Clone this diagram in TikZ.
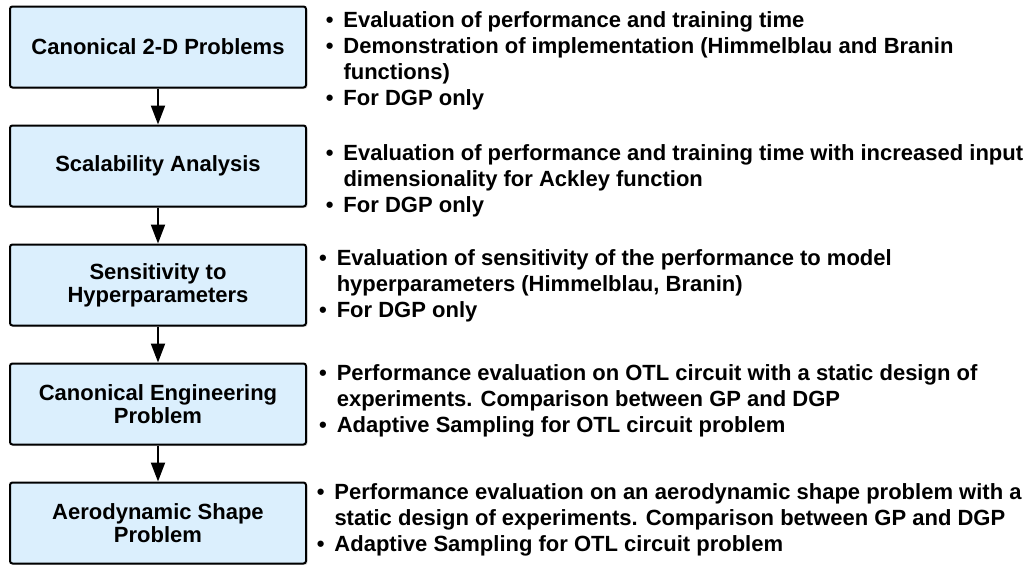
\documentclass[tikz,border=0pt]{standalone}
\usepackage{fontspec}
\setmainfont{Liberation Sans}
\usepackage{tikz}
\usetikzlibrary{calc}
\usetikzlibrary{positioning,arrows.meta,shapes,shadows}
\definecolor{boxblue}{RGB}{219,239,253}
\newcommand{\bul}{\makebox[17.6pt][l]{\textbullet}}

\begin{document}
\begin{tikzpicture}[x=1pt, y=-1pt,
  stage/.style={draw, line width=2pt, rounded corners=2.5pt, fill=boxblue,
    minimum width=296pt, minimum height=81pt, align=center,
    font=\fontsize{22}{23}\selectfont\bfseries,
    drop shadow={shadow xshift=1.5pt, shadow yshift=-1.5pt, opacity=0.25}},
  notes/.style={anchor=base west, inner sep=0pt,
    font=\fontsize{22}{26.3}\selectfont\bfseries},
  flow/.style={line width=2pt, -{Triangle[length=19pt, width=14pt]}}]
\useasboundingbox (0,0) rectangle (1026,565);

\node[stage] (canonical) at (158, 47) {Canonical 2-D Problems};
\node[stage] (scalability) at (158, 166) {Scalability Analysis};
\node[stage] (sensitivity) at (158, 285) {Sensitivity to\\Hyperparameters};
\node[stage] (engineering) at (158, 404) {Canonical Engineering\\Problem};
\node[stage] (aero) at (158, 523) {Aerodynamic Shape\\Problem};

\draw[flow] (canonical) -- (scalability);
\draw[flow] (scalability) -- (sensitivity);
\draw[flow] (sensitivity) -- (engineering);
\draw[flow] (engineering) -- (aero);

% notes beside each stage
\node[notes] (canonicalnotes) at (325.7, 27) {\begin{tabular}[t]{@{}l@{}}
\bul Evaluation of performance and training time\\
\bul Demonstration of implementation (Himmelblau and Branin\\
\hspace{17.6pt}functions)\\
\bul For DGP only
\end{tabular}};
\node[notes] (scalabilitynotes) at (325.7, 160) {\begin{tabular}[t]{@{}l@{}}
\bul Evaluation of performance and training time with increased input\\
\hspace{17.6pt}dimensionality for Ackley function\\
\bul For DGP only
\end{tabular}};
\node[notes] (sensitivitynotes) at (319, 265) {\begin{tabular}[t]{@{}l@{}}
\bul Evaluation of sensitivity of the performance to model\\
\hspace{17.6pt}hyperparameters (Himmelblau, Branin)\\
\bul For DGP only
\end{tabular}};
\node[notes] (engineeringnotes) at (319, 380) {\begin{tabular}[t]{@{}l@{}}
\bul Performance evaluation on OTL circuit with a static design of\\
\hspace{17.6pt}experiments. Comparison between GP and DGP\\
\bul Adaptive Sampling for OTL circuit problem
\end{tabular}};
\node[notes] (aeronotes) at (316.7, 499) {\begin{tabular}[t]{@{}l@{}}
\bul Performance evaluation on an aerodynamic shape problem with a\\
\hspace{17.6pt}static design of experiments. Comparison between GP and DGP\\
\bul Adaptive Sampling for OTL circuit problem
\end{tabular}};
\end{tikzpicture}
\end{document}
